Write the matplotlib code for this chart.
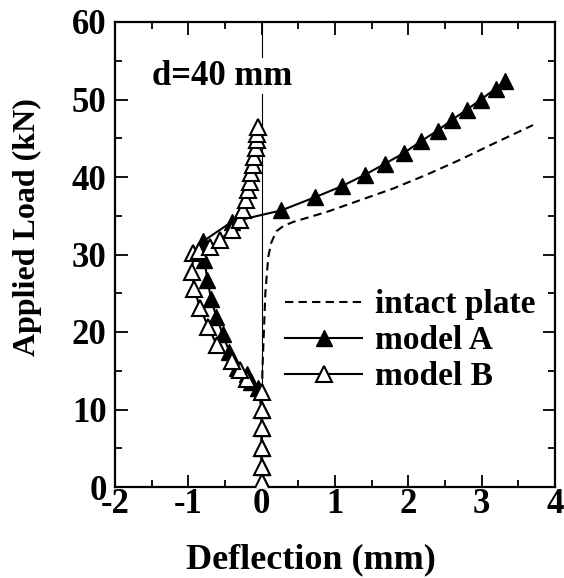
import matplotlib
matplotlib.use("Agg")
import matplotlib.pyplot as plt
from matplotlib.ticker import MultipleLocator

plt.rcParams['font.family'] = ['Liberation Serif', 'DejaVu Serif']
plt.rcParams['font.weight'] = 'bold'
plt.rcParams['axes.unicode_minus'] = False

# intact plate (dashed)
intact_x = [0.0, 0.0, 0.01, 0.03, 0.05, 0.09, 0.13, 0.20, 0.30, 0.43, 0.89, 1.34, 1.79, 2.25, 2.70, 3.16, 3.70]
intact_y = [0.0, 10.0, 15.0, 20.0, 25.0, 29.7, 31.5, 33.0, 33.7, 34.2, 35.5, 37.0, 38.5, 40.3, 42.2, 44.3, 46.7]

# model A (filled triangles)
a_x = [0.0, 0.0, 0.0, 0.0, 0.0, -0.05, -0.15, -0.20, -0.33, -0.44, -0.53, -0.62, -0.69, -0.74, -0.78, -0.80,
       -0.41, 0.27, 0.73, 1.09, 1.41, 1.68, 1.94, 2.17, 2.40, 2.60, 2.80, 2.99, 3.19, 3.32]
a_y = [0.6, 2.6, 5.0, 7.6, 9.9, 12.8, 13.6, 14.6, 15.3, 17.4, 19.7, 22.0, 24.3, 26.7, 29.3, 31.7,
       34.2, 35.7, 37.4, 38.8, 40.3, 41.7, 43.1, 44.6, 46.0, 47.4, 48.7, 50.0, 51.4, 52.4]

# model B (open triangles)
b_x = [0.0, 0.0, 0.0, 0.0, 0.0, 0.0, -0.20, -0.30, -0.41, -0.61, -0.73, -0.84, -0.92, -0.95, -0.93, -0.86,
       -0.70, -0.57, -0.40, -0.30, -0.25, -0.21, -0.19, -0.16, -0.14, -0.12, -0.10, -0.08, -0.07, -0.06, -0.05]
b_y = [0.6, 2.6, 5.0, 7.6, 9.9, 12.2, 14.0, 15.1, 16.2, 18.3, 20.7, 23.1, 25.6, 27.8, 30.2, 30.4,
       31.0, 31.9, 33.2, 34.5, 35.7, 37.0, 38.3, 39.4, 40.5, 41.5, 42.6, 43.7, 44.8, 45.6, 46.5]

fig = plt.figure(figsize=(5.64, 5.78), dpi=100)
ax = fig.add_axes([115/564, 91/578, 440/564, 465/578])

ax.axvline(0, color='black', lw=0.8, zorder=1)
ax.plot(intact_x, intact_y, color='black', ls=(0, (4, 2.5)), lw=1.5, label='intact plate', zorder=2)
ax.plot(a_x, a_y, color='black', lw=1.5, marker='^', ms=11, mfc='black', mec='black', label='model A', zorder=3)
ax.plot(b_x, b_y, color='black', lw=1.5, marker='^', ms=11, mfc='white', mec='black', mew=1.5, label='model B', zorder=4)

ax.text(-1.5, 53.0, 'd=40 mm', fontsize=25, fontweight='bold', ha='left', va='center', zorder=5,
        bbox=dict(facecolor='white', edgecolor='none', pad=1))

ax.set_xlim(-2, 4)
ax.set_ylim(0, 60)
ax.xaxis.set_major_locator(MultipleLocator(1))
ax.xaxis.set_minor_locator(MultipleLocator(0.5))
ax.yaxis.set_major_locator(MultipleLocator(10))
ax.yaxis.set_minor_locator(MultipleLocator(5))
ax.tick_params(which='both', direction='in', top=True, right=True, width=1.3)
ax.tick_params(which='major', length=9)
ax.tick_params(which='minor', length=5)
ax.tick_params(axis='x', labelsize=25, pad=1)
ax.tick_params(axis='y', labelsize=25, pad=6)
for lab in ax.get_xticklabels() + ax.get_yticklabels():
    lab.set_fontweight('bold')
for s in ax.spines.values():
    s.set_linewidth(1.6)

ax.set_xlabel('Deflection (mm)', fontsize=26, fontweight='bold')
ax.xaxis.set_label_coords(0.445, -0.122)
ax.set_ylabel('Applied Load (kN)', fontsize=23, fontweight='bold')
ax.yaxis.set_label_coords(-0.165, 0.559)

leg = ax.legend(loc='upper left', bbox_to_anchor=(0.387, 0.425), frameon=False, fontsize=24,
                handlelength=2.3, handletextpad=0.39, labelspacing=0.15, borderaxespad=0, borderpad=0)
for t in leg.get_texts():
    t.set_fontweight('bold')

fig.savefig('out.png', dpi=100)
